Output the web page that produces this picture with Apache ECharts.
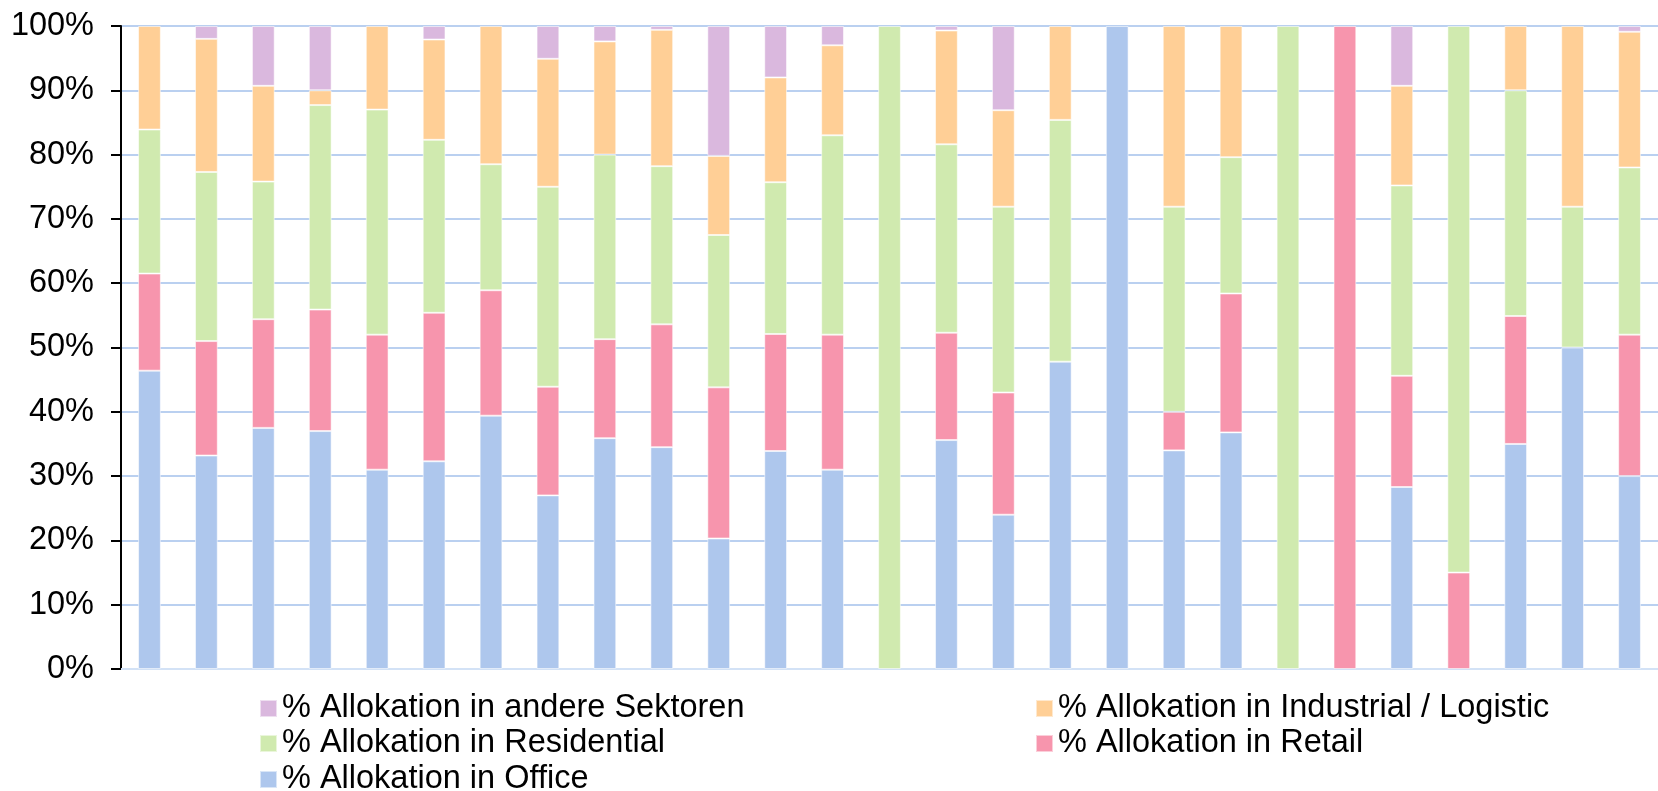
<!DOCTYPE html>
<html>
<head>
<meta charset="utf-8">
<script src="https://cdn.jsdelivr.net/npm/echarts@6/dist/echarts.min.js"></script>
<style>
  html, body { margin: 0; padding: 0; background: #fff; }
  #chart { width: 1658px; height: 791px; }
</style>
</head>
<body>
<div id="chart"></div>
<script>
// one bar per fund, no category labels visible on the axis
const categories = Array.from({ length: 27 }, (_, i) => String(i + 1));

const office      = [46.4, 33.2, 37.5, 37.0, 31.0, 32.3, 39.4, 27.0, 35.9, 34.5, 20.3, 33.9, 31.0, 0, 35.6, 24.0, 47.8, 100, 34.0, 36.8, 0, 0, 28.3, 0, 35.0, 50.0, 30.0];
const retail      = [15.1, 17.8, 16.9, 18.9, 21.0, 23.1, 19.5, 16.9, 15.4, 19.1, 23.5, 18.2, 21.0, 0, 16.7, 19.0, 0, 0, 6.0, 21.6, 0, 100, 17.3, 15.0, 19.9, 0, 22.0];
const residential = [22.4, 26.3, 21.4, 31.8, 35.0, 26.9, 19.6, 31.1, 28.7, 24.6, 23.7, 23.6, 31.0, 100, 29.3, 28.9, 37.6, 0, 31.9, 21.2, 100, 0, 29.6, 85.0, 35.1, 21.9, 26.0];
const industrial  = [16.1, 20.7, 14.9, 2.3, 13.0, 15.6, 21.5, 19.9, 17.6, 21.2, 12.3, 16.3, 14.0, 0, 17.7, 15.0, 14.6, 0, 28.1, 20.4, 0, 0, 15.5, 0, 10.0, 28.1, 21.1];
const other       = [0, 2.0, 9.3, 10.0, 0, 2.1, 0, 5.1, 2.4, 0.6, 20.2, 8.0, 3.0, 0, 0.7, 13.1, 0, 0, 0, 0, 0, 0, 9.3, 0, 0, 0, 0.9];

const yTicks = { min: 0, max: 100, interval: 10 };

const names = {
  office: "% Allokation in Office",
  retail: "% Allokation in Retail",
  residential: "% Allokation in Residential",
  industrial: "% Allokation in Industrial / Logistic",
  other: "% Allokation in andere Sektoren",
};

const FONT = "'Liberation Sans', Arial, sans-serif";

const mkSeries = (name, data, color) => ({
  type: "bar",
  name,
  stack: "total",
  barWidth: "40%",
  data: data.map((v) => (v === 0 ? "-" : v)),
  itemStyle: { color, borderColor: "rgba(255,255,255,0.55)", borderWidth: 1 },
});

// Excel-like legend: two columns, reversed order
const mkLegend = (name, left, top) => ({
  data: [name],
  left,
  top,
  padding: 0,
  icon: "rect",
  itemWidth: 17,
  itemHeight: 17,
  textStyle: { fontFamily: FONT, fontSize: 32.5, color: "#000" },
});

const chart = echarts.init(document.getElementById("chart"));
chart.setOption({
  animation: false,
  backgroundColor: "#fff",
  grid: { left: 121, right: -20, top: 26, bottom: 122 },
  legend: [
    mkLegend(names.other, 259, 692),
    mkLegend(names.industrial, 1035, 692),
    mkLegend(names.residential, 259, 727),
    mkLegend(names.retail, 1035, 727),
    mkLegend(names.office, 259, 763),
  ],
  xAxis: {
    type: "category",
    data: categories,
    axisLine: { lineStyle: { color: "#d3e2f6", width: 2 } },
    axisTick: { show: false },
    axisLabel: { show: false },
  },
  yAxis: {
    type: "value",
    ...yTicks,
    axisLine: { show: true, lineStyle: { color: "#000", width: 2 } },
    axisTick: { show: true, length: 10, lineStyle: { color: "#000", width: 2 } },
    axisLabel: {
      formatter: "{value}%",
      margin: 27,
      fontFamily: FONT,
      fontSize: 32.5,
      color: "#000",
    },
    splitLine: { lineStyle: { color: "#a3c1eb", width: 1.5 } },
  },
  series: [
    mkSeries(names.office, office, "#aec7ed"),
    mkSeries(names.retail, retail, "#f795ad"),
    mkSeries(names.residential, residential, "#d0eaaf"),
    mkSeries(names.industrial, industrial, "#ffcf96"),
    mkSeries(names.other, other, "#dab8de"),
  ],
});
</script>
</body>
</html>
